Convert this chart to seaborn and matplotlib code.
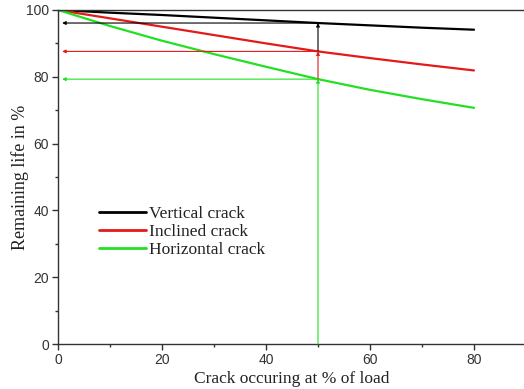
import numpy as np
import pandas as pd
import matplotlib
matplotlib.use("Agg")
import matplotlib.pyplot as plt
from matplotlib.ticker import MultipleLocator
import seaborn as sns

# Load level at which the crack occurs (% of load)
load = [0, 10, 20, 30, 40, 50, 60, 70, 80]
vertical = [100, 99.2, 98.5, 97.7, 96.9, 96.1, 95.4, 94.7, 94.1]
inclined = [100, 97.5, 95.0, 92.5, 90.0, 87.6, 85.6, 83.7, 81.9]
horizontal = [100, 95.2, 90.8, 86.8, 83.0, 79.3, 76.1, 73.3, 70.7]
series_names = ["Vertical crack", "Inclined crack", "Horizontal crack"]
colors = ["#000000", "#e41a1a", "#22e022"]
marker_load = 50

df = pd.concat([
    pd.DataFrame({"load": load, "life": vals, "type": name})
    for name, vals in zip(series_names, [vertical, inclined, horizontal])
])

sns.set_style("ticks")
fig = plt.figure(figsize=(5.24, 3.89), dpi=100)
ax = fig.add_axes([58 / 524, 45 / 389, 468 / 524, 334 / 389])

sns.lineplot(data=df, x="load", y="life", hue="type", palette=colors,
             hue_order=series_names, linewidth=1.6, ax=ax)

# Read-off lines at 50 % load: vertical guides and horizontal arrows to the axis
at50 = {name: vals[load.index(marker_load)]
        for name, vals in zip(series_names, [vertical, inclined, horizontal])}
ordered = [("Horizontal crack", 0), ("Inclined crack", at50["Horizontal crack"]),
           ("Vertical crack", at50["Inclined crack"])]
for (name, y0), c in zip(ordered, [colors[2], colors[1], colors[0]]):
    y1 = at50[name]
    ax.annotate("", xy=(marker_load, y1), xytext=(marker_load, y0),
                arrowprops=dict(arrowstyle="-|>", color=c, lw=0.8,
                                mutation_scale=5, shrinkA=0, shrinkB=0))
for name, c in zip(series_names, colors):
    y = at50[name]
    ax.annotate("", xy=(0.8, y), xytext=(marker_load, y),
                arrowprops=dict(arrowstyle="-|>", color=c, lw=0.8,
                                mutation_scale=5, shrinkA=0, shrinkB=0))

ax.set_xlim(0, 90)
ax.set_ylim(0, 100)
ax.xaxis.set_major_locator(MultipleLocator(20))
ax.xaxis.set_minor_locator(MultipleLocator(10))
ax.yaxis.set_major_locator(MultipleLocator(20))
ax.yaxis.set_minor_locator(MultipleLocator(10))
ax.tick_params(which="major", direction="out", length=4, width=1,
               labelsize=10, color="#333333", labelcolor="#333333", pad=2.5)
ax.tick_params(which="minor", direction="out", length=2.5, width=1, color="#333333")
for lab in ax.get_xticklabels() + ax.get_yticklabels():
    lab.set_family("Liberation Sans")
for s in ax.spines.values():
    s.set_color("#333333")
    s.set_linewidth(1.0)

ax.set_xlabel("Crack occuring at % of load", family="Liberation Serif",
              fontsize=12.5, color="#222222", labelpad=3)
ax.set_ylabel("Remaining life in %", family="Liberation Serif",
              fontsize=13, color="#222222", labelpad=-2)

leg = ax.legend(loc="upper left", bbox_to_anchor=(0.072, 0.435), frameon=False,
                handlelength=2.7, handletextpad=0.2, labelspacing=0.1,
                borderaxespad=0,
                prop={"family": "Liberation Serif", "size": 12.5})
for h in leg.legend_handles:
    h.set_linewidth(2)
for t in leg.get_texts():
    t.set_color("#222222")

fig.savefig("out.png", dpi=100)
